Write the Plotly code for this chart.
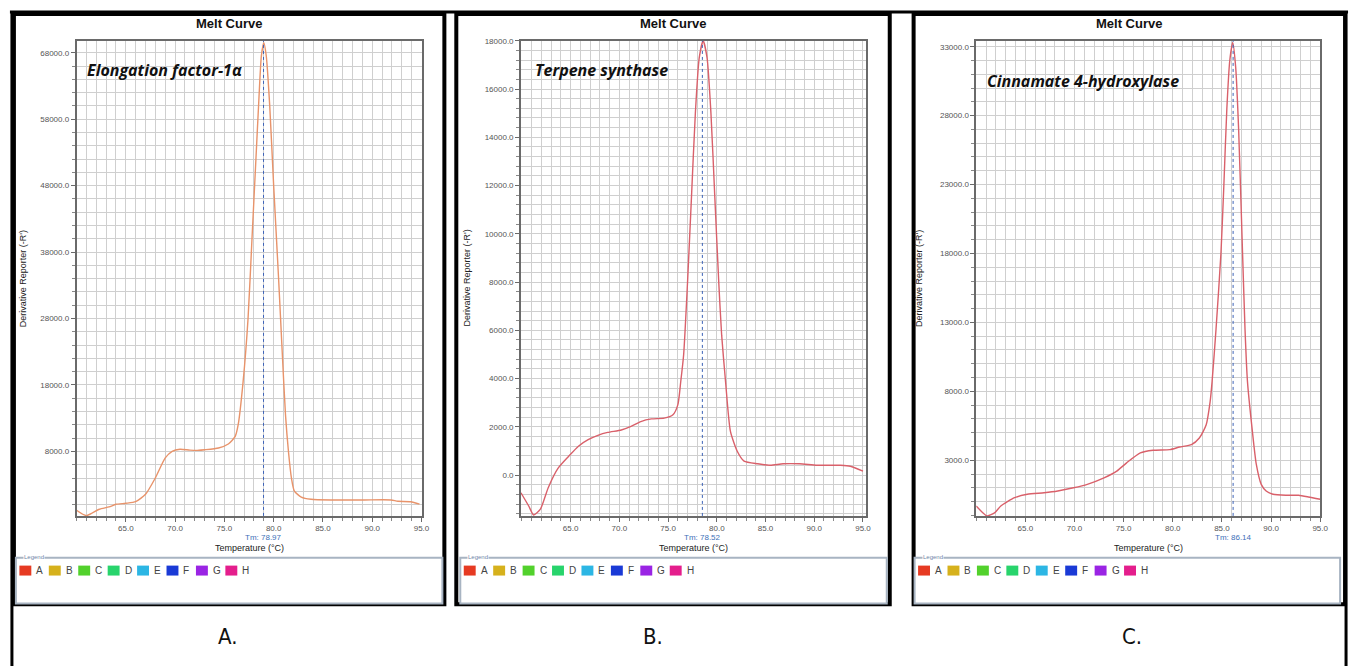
import plotly.graph_objects as go

# ---------------- data ----------------
panel_letters = ["A.", "B.", "C."]
gene_names = ["Elongation factor-1α", "Terpene synthase", "Cinnamate 4-hydroxylase"]
tm_values = [78.97, 78.52, 86.14]

temp_A = [60.0, 61.0, 62.3, 63.3, 64.0, 65.0, 66.0, 67.0, 68.0, 69.0, 69.7, 70.5, 71.5, 72.4,
          73.0, 74.4, 75.4, 76.1, 76.4, 76.9, 77.4, 77.8, 78.2, 78.5, 78.75, 79.0, 79.25, 79.6,
          80.0, 80.5, 80.9, 81.2, 81.5, 81.8, 82.1, 82.8, 83.8, 85.8, 89.2, 91.9, 92.6, 93.9, 94.8]
deriv_A = [-850, -1650, -700, -350, 50, 200, 440, 1550, 4030, 7020, 8020, 8320, 8200, 8170,
           8250, 8520, 9120, 10270, 12020, 18500, 28000, 40000, 52000, 61000, 67500, 69500, 67500, 60000,
           48000, 34000, 22000, 13500, 8000, 4030, 2040, 1140, 800, 690, 700, 700, 500, 440, 80]

temp_B = [59.9, 60.7, 61.2, 61.9, 62.7, 63.7, 64.8, 65.8, 66.8, 67.8, 68.8, 70.2, 71.2, 72.2,
          73.3, 74.6, 75.5, 76.0, 76.3, 76.6, 77.0, 77.4, 77.8, 78.2, 78.6, 79.0, 79.4, 79.8,
          80.2, 80.5, 80.9, 81.4, 82.1, 82.8, 84.2, 85.5, 86.8, 88.5, 90.3, 92.7, 93.7, 95.0]
deriv_B = [-730, -1280, -1650, -1410, -520, 280, 780, 1200, 1470, 1650, 1770, 1870, 2020, 2220,
           2330, 2360, 2500, 2910, 3870, 5000, 8000, 11500, 15000, 17300, 18000, 17300, 15000, 11500,
           8000, 5800, 3870, 1810, 990, 580, 470, 410, 470, 470, 410, 410, 370, 165]

temp_C = [60.0, 61.1, 61.9, 62.5, 63.9, 65.2, 66.9, 68.3, 69.9, 71.3, 73.0, 74.3, 75.3, 76.7,
          78.0, 79.7, 80.7, 81.9, 82.7, 83.4, 83.8, 84.0, 84.4, 84.9, 85.2, 85.5, 85.8, 86.1,
          86.4, 86.7, 87.1, 87.35, 87.6, 88.1, 88.5, 89.0, 89.5, 90.2, 91.5, 92.8, 93.8, 95.0]
deriv_C = [-320, -1040, -800, -320, 280, 530, 640, 770, 1000, 1250, 1720, 2210, 2810, 3530,
           3720, 3770, 3960, 4130, 4610, 5570, 7250, 8700, 12500, 18000, 23000, 28500, 32000, 33300,
           31500, 27000, 18000, 12500, 8700, 5090, 2690, 1250, 770, 530, 455, 455, 335, 166]

x_ticks = [65, 70, 75, 80, 85, 90, 95]

# ---------------- layout helpers ----------------
W, H = 1362, 666
def fx(p): return p / W
def fy(p): return 1 - p / H

panels = [
    dict(box=(14, 447), plot=(77, 424), xr=[60, 95], yr=[-1700, 69800], dt=10000, t0=8000, mdt=2000,
         color="#e8936a", legend=(16, 445), gene_xy=(86, 66), ylab_x=23),
    dict(box=(459, 895), plot=(524, 871), xr=[59.9, 95.3], yr=[-1690, 18000], dt=2000, t0=0, mdt=400,
         color="#d9606a", legend=(463, 892), gene_xy=(536, 66), ylab_x=470),
    dict(box=(919, 1353), plot=(982, 1328), xr=[60, 95], yr=[-1040, 33430], dt=5000, t0=3000, mdt=1000,
         color="#d9606a", legend=(920, 1348), gene_xy=(991, 77), ylab_x=925),
]
temps = [temp_A, temp_B, temp_C]
derivs = [deriv_A, deriv_B, deriv_C]

legend_keys = ["A", "B", "C", "D", "E", "F", "G", "H"]
legend_cols = ["#e63a22", "#d6b11c", "#52d12c", "#28d46c", "#2cb6e4", "#1a3ad6", "#9a24e4", "#e41e8c"]

PLOT_TOP, PLOT_BOT = 37, 515
fig = go.Figure()
shapes, annos = [], []
grid_col = "#cfcfcf"
axis_col = "#6a6a6a"
tick_font = dict(family="Liberation Sans, Arial, sans-serif", size=8, color="#555555")

for i, p in enumerate(panels):
    xa = "xaxis" if i == 0 else f"xaxis{i+1}"
    ya = "yaxis" if i == 0 else f"yaxis{i+1}"
    xr_ = "x" if i == 0 else f"x{i+1}"
    yr_ = "y" if i == 0 else f"y{i+1}"
    fig.add_trace(go.Scatter(x=temps[i], y=derivs[i], mode="lines",
                             line=dict(color=p["color"], width=1.4, shape="spline", smoothing=0.6),
                             xaxis=xr_, yaxis=yr_, showlegend=False, hoverinfo="skip"))
    fig.update_layout({
        xa: dict(domain=[fx(p["plot"][0]), fx(p["plot"][1])], range=p["xr"], anchor=yr_,
                 tickvals=x_ticks, ticktext=[f"{v:.1f}" for v in x_ticks],
                 showgrid=True, gridcolor=grid_col, gridwidth=1,
                 ticks="outside", ticklen=4, tickcolor=axis_col, tickfont=tick_font,
                 showline=True, linecolor=axis_col, linewidth=1.5, mirror=True, zeroline=False,
                 minor=dict(dtick=1, tick0=60, showgrid=True, gridcolor=grid_col, gridwidth=1,
                            ticks="outside", ticklen=3, tickcolor="#888888"),
                 fixedrange=True),
        ya: dict(domain=[fy(PLOT_BOT), fy(PLOT_TOP)], range=p["yr"], anchor=xr_,
                 tick0=p["t0"], dtick=p["dt"], tickformat=".1f",
                 showgrid=True, gridcolor=grid_col, gridwidth=1,
                 ticks="outside", ticklen=4, tickcolor=axis_col, tickfont=tick_font,
                 showline=True, linecolor=axis_col, linewidth=1.5, mirror=True, zeroline=False,
                 minor=dict(dtick=p["mdt"], tick0=p["t0"], showgrid=True, gridcolor=grid_col, gridwidth=1,
                            ticks="outside", ticklen=3, tickcolor="#888888"),
                 fixedrange=True),
    })
    shapes.append(dict(type="line", xref=xr_, yref=f"{yr_} domain", x0=tm_values[i], x1=tm_values[i],
                       y0=0, y1=1, line=dict(color="#3d63b8", width=1, dash="dot"), layer="above"))
    bx0, bx1 = p["box"]
    shapes.append(dict(type="rect", xref="paper", yref="paper", x0=fx(bx0), x1=fx(bx1),
                       y0=fy(604), y1=fy(10), line=dict(color="black", width=4), layer="below",
                       fillcolor="white"))
    cx = (bx0 + bx1) / 2
    annos.append(dict(text="<b>Melt Curve</b>", x=fx(cx), y=fy(20), xref="paper", yref="paper",
                      showarrow=False, xanchor="center", yanchor="middle",
                      font=dict(family="Liberation Sans, Arial, sans-serif", size=13, color="#111111")))
    gx, gy = p["gene_xy"]
    annos.append(dict(text=f"<b><i>{gene_names[i]}</i></b>", x=fx(gx), y=fy(gy), xref="paper", yref="paper",
                      showarrow=False, xanchor="left", yanchor="middle",
                      font=dict(family="Open Sans, Liberation Sans, sans-serif", size=16, color="#111111")))
    pcx = (p["plot"][0] + p["plot"][1]) / 2
    annos.append(dict(text="Temperature (°C)", x=fx(pcx), y=fy(547), xref="paper", yref="paper",
                      showarrow=False, xanchor="center", yanchor="middle",
                      font=dict(family="Liberation Sans, Arial, sans-serif", size=9, color="#222222")))
    annos.append(dict(text="Derivative Reporter (-R')", x=fx(p["ylab_x"]), y=fy((PLOT_TOP + PLOT_BOT) / 2),
                      xref="paper", yref="paper", textangle=-90,
                      showarrow=False, xanchor="center", yanchor="middle",
                      font=dict(family="Liberation Sans, Arial, sans-serif", size=9, color="#222222")))
    annos.append(dict(text=f"Tm: {tm_values[i]:.2f}", x=tm_values[i], xref=xr_, y=fy(537), yref="paper",
                      showarrow=False, xanchor="center", yanchor="middle",
                      font=dict(family="Liberation Sans, Arial, sans-serif", size=8, color="#3d6fb8")))
    lx0, lx1 = p["legend"]
    shapes.append(dict(type="rect", xref="paper", yref="paper", x0=fx(lx0), x1=fx(lx1),
                       y0=fy(603), y1=fy(557), line=dict(color="#a8b4c2", width=2), fillcolor="white"))
    annos.append(dict(text="Legend", x=fx(lx0 + 7), y=fy(556), xref="paper", yref="paper",
                      showarrow=False, xanchor="left", yanchor="middle", bgcolor="white",
                      borderpad=0, font=dict(family="Liberation Sans, Arial, sans-serif", size=6, color="#6f86a8")))
    for k, (key, col) in enumerate(zip(legend_keys, legend_cols)):
        sx = lx0 + 3.5 + k * 29.6
        shapes.append(dict(type="rect", xref="paper", yref="paper", x0=fx(sx), x1=fx(sx + 12),
                           y0=fy(575), y1=fy(565), line=dict(width=0), fillcolor=col))
        annos.append(dict(text=key, x=fx(sx + 15), y=fy(570), xref="paper", yref="paper",
                          showarrow=False, xanchor="left", yanchor="middle",
                          font=dict(family="Liberation Sans, Arial, sans-serif", size=10, color="#444444")))

# outer frame
shapes.append(dict(type="line", xref="paper", yref="paper", x0=fx(10), x1=fx(1356), y0=fy(8), y1=fy(8),
                   line=dict(color="black", width=3)))
shapes.append(dict(type="line", xref="paper", yref="paper", x0=fx(12), x1=fx(12), y0=fy(8), y1=0,
                   line=dict(color="black", width=3)))
shapes.append(dict(type="line", xref="paper", yref="paper", x0=fx(1354), x1=fx(1354), y0=fy(8), y1=0,
                   line=dict(color="black", width=3)))

for letter, cx in zip(panel_letters, [229, 657, 1139]):
    annos.append(dict(text=letter, x=fx(cx), y=fy(636), xref="paper", yref="paper",
                      showarrow=False, xanchor="center", yanchor="middle",
                      font=dict(family="Liberation Sans Narrow, DejaVu Sans Condensed, Arial Narrow, sans-serif",
                                size=22, color="#111111")))

fig.update_layout(width=W, height=H, margin=dict(l=0, r=0, t=0, b=0),
                  paper_bgcolor="white", plot_bgcolor="white",
                  shapes=shapes, annotations=annos, showlegend=False)

fig.write_html("out.html", config={"displayModeBar": False},
               post_script="document.body.style.margin='0';document.body.style.overflow='hidden';")
